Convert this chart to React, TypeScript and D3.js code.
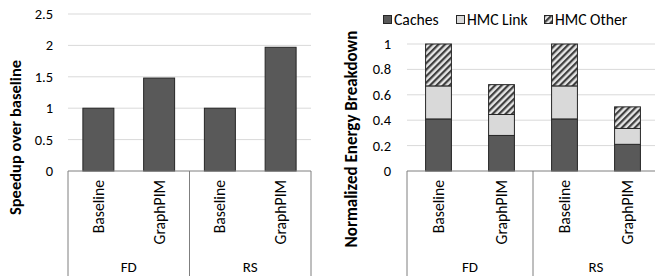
import React from 'react';
import * as d3 from 'd3';

// categories
const groups = ['FD', 'RS'];
const configs = ['Baseline', 'GraphPIM'];

// left chart: speedup over baseline
const speedup = [1, 1.48, 1, 1.97];
const speedupTicks = [0, 0.5, 1, 1.5, 2, 2.5];

// right chart: normalized energy breakdown (stacked)
const seriesNames = ['Caches', 'HMC Link', 'HMC Other'];
const caches = [0.41, 0.28, 0.41, 0.21];
const hmcLink = [0.26, 0.165, 0.26, 0.125];
const hmcOther = [0.33, 0.235, 0.33, 0.17];
const energyTicks = [0, 0.2, 0.4, 0.6, 0.8, 1];

const FONT = 'Carlito, Calibri, Lato, sans-serif';
const DARK = '#595959';
const LIGHT = '#d9d9d9';
const GRID = '#d9d9d9';
const AXIS = '#7f7f7f';

const keys = groups.flatMap(g => configs.map(c => `${g}|${c}`));

// draws the two-level category axis below the plot
const CategoryAxis = ({ x, y0, bottom }) => {
  const [r0, r1] = x.range();
  const mid = (r0 + r1) / 2;
  return (
    <g>
      <line x1={r0} x2={r1} y1={y0} y2={y0} stroke={AXIS} />
      {[r0, mid, r1].map((xx, i) => (
        <line key={i} x1={xx} x2={xx} y1={y0} y2={bottom} stroke={AXIS} />
      ))}
      {keys.map(k => {
        const cx = x(k) + x.bandwidth() / 2;
        return (
          <text key={k} transform={`translate(${cx},${y0 + 9}) rotate(-90)`}
            textAnchor="end" dy="0.35em" fontSize={15.7} fill="#000">
            {k.split('|')[1]}
          </text>
        );
      })}
      {groups.map((g, i) => (
        <text key={g} x={i === 0 ? (r0 + mid) / 2 : (mid + r1) / 2} y={272}
          textAnchor="middle" fontSize={15} fill="#000">{g}</text>
      ))}
    </g>
  );
};

const App = () => {
  // left chart scales
  const xL = d3.scaleBand().domain(keys).range([68, 311]).paddingInner(0.49).paddingOuter(0.245);
  const yL = d3.scaleLinear().domain([0, 2.5]).range([171, 14]);

  // right chart scales
  const xR = d3.scaleBand().domain(keys).range([407, 659]).paddingInner(0.59).paddingOuter(0.295);
  const yR = d3.scaleLinear().domain([0, 1]).range([171, 44]);

  const rows = keys.map((k, i) => ({ key: k, 'Caches': caches[i], 'HMC Link': hmcLink[i], 'HMC Other': hmcOther[i] }));
  const stacked = d3.stack().keys(seriesNames)(rows);
  const fills = [DARK, LIGHT, 'url(#hatch)'];

  const legendX = [383, 456, 544];

  return (
    <svg width={655} height={276} style={{ position: 'absolute', left: 0, top: 0, background: '#fff' }}
      fontFamily={FONT}>
      <defs>
        <pattern id="hatch" patternUnits="userSpaceOnUse" width={4.6} height={4.6} patternTransform="rotate(45)">
          <rect width={4.6} height={4.6} fill="#e6e6e6" />
          <rect width={2.2} height={4.6} fill="#3f3f3f" />
        </pattern>
      </defs>

      {/* ---------- left chart ---------- */}
      {speedupTicks.map(t => (
        <g key={t}>
          {t > 0 && <line x1={68} x2={311} y1={yL(t)} y2={yL(t)} stroke={GRID} />}
          <text x={53} y={yL(t)} dy="0.35em" textAnchor="end" fontSize={14.5}>{t}</text>
        </g>
      ))}
      {keys.map((k, i) => (
        <rect key={k} x={xL(k)} width={xL.bandwidth()} y={yL(speedup[i])} height={yL(0) - yL(speedup[i])}
          fill={DARK} stroke="#262626" strokeWidth={1} />
      ))}
      <CategoryAxis x={xL} y0={yL(0)} bottom={276} />
      <text transform="translate(20.5,137.5) rotate(-90)" textAnchor="middle" fontSize={16.5} fontWeight="bold">
        Speedup over baseline
      </text>

      {/* ---------- right chart ---------- */}
      {energyTicks.map(t => (
        <g key={t}>
          {t > 0 && <line x1={407} x2={655} y1={yR(t)} y2={yR(t)} stroke={GRID} />}
          <text x={391} y={yR(t)} dy="0.35em" textAnchor="end" fontSize={14.5}>{t}</text>
        </g>
      ))}
      {stacked.map((s, si) => (
        <g key={s.key}>
          {s.map((d, i) => (
            <rect key={i} x={xR(keys[i])} width={xR.bandwidth()} y={yR(d[1])} height={yR(d[0]) - yR(d[1])}
              fill={fills[si]} stroke="#262626" strokeWidth={1} />
          ))}
        </g>
      ))}
      <CategoryAxis x={xR} y0={yR(0)} bottom={276} />
      <text transform="translate(357,139) rotate(-90)" textAnchor="middle" fontSize={17} fontWeight="bold">
        Normalized Energy Breakdown
      </text>

      {/* legend */}
      {seriesNames.map((n, i) => (
        <g key={n} transform={`translate(${legendX[i]},15)`}>
          <rect x={0.5} y={0.5} width={8} height={8} fill={fills[i]} stroke="#262626" />
          <text x={11} y={4.5} dy="0.35em" fontSize={15.7}>{n}</text>
        </g>
      ))}
    </svg>
  );
};

export default App;
